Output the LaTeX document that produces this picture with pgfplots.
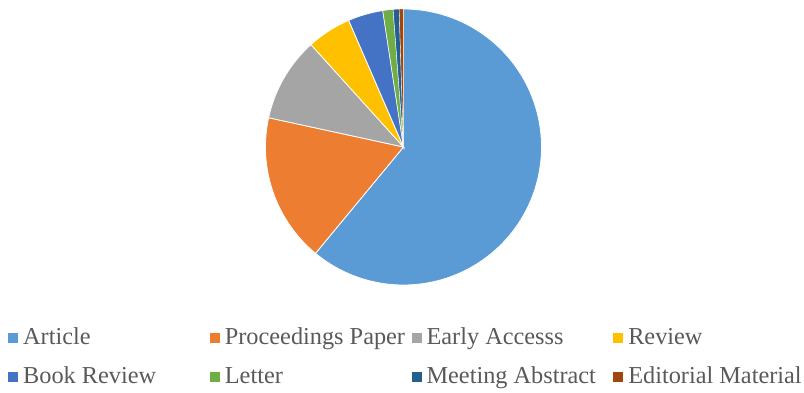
\documentclass[border=0pt]{standalone}
\usepackage{pgfplots}
\pgfplotsset{compat=1.18}
\usepgfplotslibrary{polar}
\usepackage{fontspec}
\setmainfont{Liberation Serif}
\newfontfamily\lserif{Liberation Serif}
\definecolor{cArt}{HTML}{5B9BD5}
\definecolor{cProc}{HTML}{ED7D31}
\definecolor{cEarly}{HTML}{A5A5A5}
\definecolor{cRev}{HTML}{FFC000}
\definecolor{cBook}{HTML}{4472C4}
\definecolor{cLet}{HTML}{70AD47}
\definecolor{cMeet}{HTML}{255E91}
\definecolor{cEd}{HTML}{9E480E}
\definecolor{txt}{HTML}{595959}
% shares in percent
\def\vA{61.0}\def\vB{17.4}\def\vC{9.9}\def\vD{5.2}
\def\vE{4.1}\def\vF{1.2}\def\vG{0.7}\def\vH{0.5}
\pgfmathsetmacro\aA{90}
\pgfmathsetmacro\aB{\aA-3.6*\vA}
\pgfmathsetmacro\aC{\aB-3.6*\vB}
\pgfmathsetmacro\aD{\aC-3.6*\vC}
\pgfmathsetmacro\aE{\aD-3.6*\vD}
\pgfmathsetmacro\aF{\aE-3.6*\vE}
\pgfmathsetmacro\aG{\aF-3.6*\vF}
\pgfmathsetmacro\aH{\aG-3.6*\vG}
\pgfmathsetmacro\aI{\aH-3.6*\vH}
\newcommand\ent[1]{\makebox[191.7pt][l]{\hspace{5pt}#1}}
\begin{document}
\begin{tikzpicture}
\useasboundingbox (0,0) rectangle (804pt,393pt);
\begin{polaraxis}[
  hide axis, scale only axis, width=276pt, height=276pt,
  xmin=0, xmax=360, ymin=0, ymax=1, clip=false,
  at={(403.5pt,246pt)}, anchor=center,
  legend columns=4,
  legend image code/.code={\fill[#1,draw=none] (0pt,-5pt) rectangle (10pt,5pt);},
  legend style={draw=none, fill=none, at={(-0.9330,-0.17030)}, anchor=north west,
    inner sep=0pt, column sep=0pt, row sep=27pt,
    font=\lserif\fontsize{24.3}{27}\selectfont, text=txt,
    nodes={inner sep=0pt, text height=12pt, text depth=0pt}},
  legend cell align=left,
]
\addplot[fill=cArt, draw=white, line width=0.8pt, domain=\aB:\aA, samples=120] {1} -- (axis cs:0,0) -- cycle;
\addlegendentry{\ent{Article}}
\addplot[fill=cProc, draw=white, line width=0.8pt, domain=\aC:\aB, samples=60] {1} -- (axis cs:0,0) -- cycle;
\addlegendentry{\ent{Proceedings Paper}}
\addplot[fill=cEarly, draw=white, line width=0.8pt, domain=\aD:\aC, samples=40] {1} -- (axis cs:0,0) -- cycle;
\addlegendentry{\ent{Early Accesss}}
\addplot[fill=cRev, draw=white, line width=0.8pt, domain=\aE:\aD, samples=30] {1} -- (axis cs:0,0) -- cycle;
\addlegendentry{\ent{Review}}
\addplot[fill=cBook, draw=white, line width=0.8pt, domain=\aF:\aE, samples=30] {1} -- (axis cs:0,0) -- cycle;
\addlegendentry{\ent{Book Review}}
\addplot[fill=cLet, draw=white, line width=0.5pt, domain=\aG:\aF, samples=20] {1} -- (axis cs:0,0) -- cycle;
\addlegendentry{\ent{Letter}}
\addplot[fill=cMeet, draw=white, line width=0.4pt, domain=\aH:\aG, samples=20] {1} -- (axis cs:0,0) -- cycle;
\addlegendentry{\ent{Meeting Abstract}}
\addplot[fill=cEd, draw=white, line width=0.3pt, domain=\aI:\aH, samples=20] {1} -- (axis cs:0,0) -- cycle;
\addlegendentry{\ent{Editorial Material}}
\end{polaraxis}
\end{tikzpicture}
\end{document}
